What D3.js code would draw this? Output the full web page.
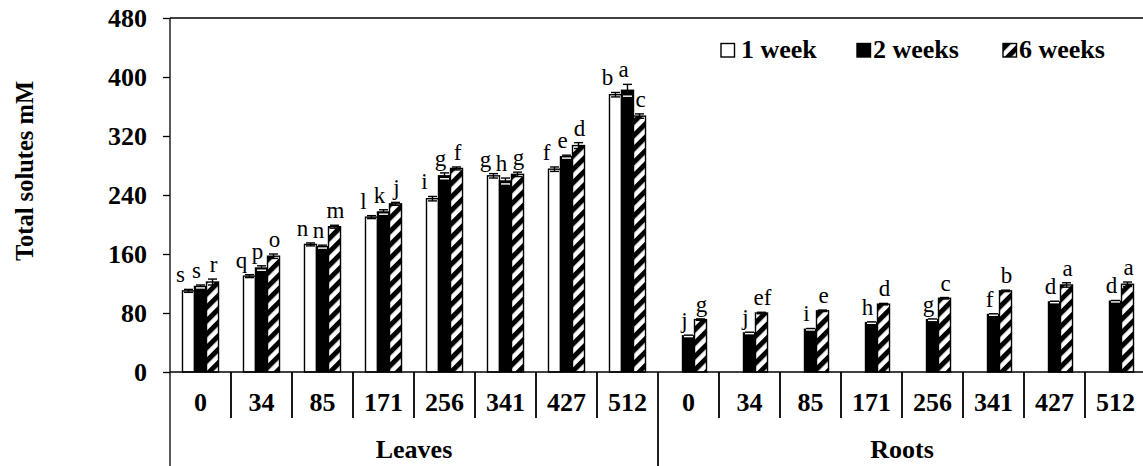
<!DOCTYPE html>
<html>
<head>
<meta charset="utf-8">
<script src="https://cdn.jsdelivr.net/npm/d3@7"></script>
<style>
  html, body { margin: 0; padding: 0; background: #fff; }
  svg { display: block; }
</style>
</head>
<body>
<svg id="chart" width="1143" height="466"></svg>
<script>
// ---------- data ----------
const groups = ["Leaves", "Roots"];
const doses = ["0", "34", "85", "171", "256", "341", "427", "512"];
const series = ["1 week", "2 weeks", "6 weeks"];
const yTicks = [0, 80, 160, 240, 320, 400, 480];

const leaves1w = [110, 130, 173, 210, 235, 266, 275, 376];
const leaves2w = [116, 141, 170, 217, 266, 259, 292, 382];
const leaves6w = [122, 157, 197, 228, 276, 268, 307, 347];
const roots1w  = [null, null, null, null, null, null, null, null];
const roots2w  = [49, 53, 58, 67, 71, 78, 95, 96];
const roots6w  = [71, 80, 83, 92, 100, 110, 118, 119];

const leaves1wErr = [2, 2, 2, 2, 3, 3, 3, 3];
const leaves2wErr = [2, 3, 2, 3, 4, 4, 2, 8];
const leaves6wErr = [4, 3, 2, 2, 2, 3, 4, 3];
const roots1wErr  = [null, null, null, null, null, null, null, null];
const roots2wErr  = [1, 1, 1, 1, 1, 1, 1, 1];
const roots6wErr  = [1, 1, 1, 1, 1, 1, 3, 3];

const leaves1wLet = ["s", "q", "n", "l", "i", "g", "f", "b"];
const leaves2wLet = ["s", "p", "n", "k", "g", "h", "e", "a"];
const leaves6wLet = ["r", "o", "m", "j", "f", "g", "d", "c"];
const roots1wLet  = [null, null, null, null, null, null, null, null];
const roots2wLet  = ["j", "j", "i", "h", "g", "f", "d", "d"];
const roots6wLet  = ["g", "ef", "e", "d", "c", "b", "a", "a"];

// ---------- assemble ----------
const valueTable = { Leaves: [leaves1w, leaves2w, leaves6w], Roots: [roots1w, roots2w, roots6w] };
const errTable = { Leaves: [leaves1wErr, leaves2wErr, leaves6wErr], Roots: [roots1wErr, roots2wErr, roots6wErr] };
const letTable = { Leaves: [leaves1wLet, leaves2wLet, leaves6wLet], Roots: [roots1wLet, roots2wLet, roots6wLet] };

const cats = [];
groups.forEach(g => doses.forEach((d, i) => cats.push({ key: g + "|" + d, group: g, dose: d, i })));
const rows = [];
cats.forEach(c => series.forEach((s, si) => {
  const v = valueTable[c.group][si][c.i];
  if (v == null) return;
  rows.push({ key: c.key, series: s, si, value: v, err: errTable[c.group][si][c.i], letter: letTable[c.group][si][c.i] });
}));

// ---------- layout ----------
const svg = d3.select("#chart");
const W = 1143, H = 466;
const pLeft = 170, pRight = 1146, pTop = 18, pBase = 372;
const FONT_BIG = 26;
const FF = '"Liberation Serif"';

const y = d3.scaleLinear().domain([0, 480]).range([pBase, pTop]);
const x = d3.scaleBand().domain(cats.map(c => c.key)).range([pLeft, pRight]).padding(0);
const xs = d3.scaleBand().domain(series).range([0, x.bandwidth()]).paddingInner(0).paddingOuter(1.04);

svg.append("rect").attr("width", W).attr("height", H).attr("fill", "#fff");

// pattern
const defs = svg.append("defs");
const pat = defs.append("pattern").attr("id", "hatch").attr("patternUnits", "userSpaceOnUse")
  .attr("width", 9.5).attr("height", 9.5).attr("patternTransform", "rotate(45)");
pat.append("rect").attr("width", 9.5).attr("height", 9.5).attr("fill", "#fff");
pat.append("rect").attr("width", 5).attr("height", 9.5).attr("fill", "#000");

const fills = ["#fff", "#000", "url(#hatch)"];

// frame top line
svg.append("line").attr("x1", pLeft).attr("x2", pRight).attr("y1", pTop).attr("y2", pTop)
  .attr("stroke", "#000").attr("stroke-width", 1.3);

// bars
svg.append("g").selectAll("rect").data(rows).join("rect")
  .attr("x", d => x(d.key) + xs(d.series))
  .attr("width", xs.bandwidth())
  .attr("y", d => y(d.value))
  .attr("height", d => y(0) - y(d.value))
  .attr("fill", d => fills[d.si])
  .attr("stroke", "#000").attr("stroke-width", 1.4);

// error bars
const eg = svg.append("g").attr("stroke", "#000").attr("stroke-width", 1.4);
rows.forEach(d => {
  const cx = x(d.key) + xs(d.series) + xs.bandwidth() / 2;
  const hw = 4.5;
  const y1 = y(d.value + d.err), y2 = y(d.value - d.err);
  eg.append("line").attr("x1", cx).attr("x2", cx).attr("y1", y1).attr("y2", y2);
  eg.append("line").attr("x1", cx - hw).attr("x2", cx + hw).attr("y1", y1).attr("y2", y1);
  eg.append("line").attr("x1", cx - hw).attr("x2", cx + hw).attr("y1", y2).attr("y2", y2)
    .attr("stroke", d.si === 1 ? "#fff" : "#000");
});

// letters
const letterDx = [-8, -4, 1];
svg.append("g").selectAll("text").data(rows.filter(d => d.letter)).join("text")
  .attr("x", d => x(d.key) + xs(d.series) + xs.bandwidth() / 2 + letterDx[d.si])
  .attr("y", d => y(d.value + d.err) - 7)
  .attr("text-anchor", "middle")
  .style("font-family", FF)
  .attr("font-size", 23)
  .text(d => d.letter);

// y axis
const yAxis = d3.axisLeft(y).tickValues(yTicks).tickSize(7).tickSizeOuter(0).tickPadding(16);
const gy = svg.append("g").attr("transform", `translate(${pLeft},0)`).call(yAxis);
gy.select(".domain").remove();
gy.selectAll(".tick line").attr("stroke", "#000").attr("stroke-width", 1.3);
gy.selectAll(".tick text").attr("font-size", FONT_BIG).attr("font-weight", "bold")
  .style("font-family", FF).attr("fill", "#000");
svg.append("line").attr("x1", pLeft).attr("x2", pLeft).attr("y1", pTop).attr("y2", H)
  .attr("stroke", "#000").attr("stroke-width", 1.3);

// x axis baseline
svg.append("line").attr("x1", pLeft).attr("x2", pRight).attr("y1", pBase).attr("y2", pBase)
  .attr("stroke", "#000").attr("stroke-width", 1.6);

// x category labels
const xAxis = d3.axisBottom(x).tickSize(0).tickSizeOuter(0).tickPadding(20.5)
  .tickFormat(k => k.split("|")[1]);
const gx = svg.append("g").attr("transform", `translate(0,${pBase})`).call(xAxis);
gx.select(".domain").remove();
gx.selectAll(".tick text").attr("font-size", FONT_BIG).attr("font-weight", "bold")
  .style("font-family", FF).attr("fill", "#000");

// separators
const sep = svg.append("g").attr("stroke", "#000");
cats.forEach((c, idx) => {
  if (idx === 0) return;
  const xx = x(c.key);
  const full = c.i === 0;
  sep.append("line").attr("x1", xx).attr("x2", xx).attr("y1", pBase).attr("y2", full ? H : 418)
    .attr("stroke-width", full ? 1.3 : 1.8);
});
groups.forEach(g => {
  const last = x(g + "|" + doses[doses.length - 1]) + x.bandwidth();
  if (last < W) sep.append("line").attr("x1", last).attr("x2", last).attr("y1", pBase).attr("y2", H).attr("stroke-width", 1.3);
});

// group labels
groups.forEach(g => {
  const x0 = x(g + "|" + doses[0]);
  const x1 = x(g + "|" + doses[doses.length - 1]) + x.bandwidth();
  svg.append("text").attr("x", (x0 + x1) / 2).attr("y", 458).attr("text-anchor", "middle")
    .style("font-family", FF).attr("font-size", FONT_BIG).attr("font-weight", "bold").text(g);
});

// y title
svg.append("text").attr("transform", "translate(33,171) rotate(-90)").attr("text-anchor", "middle")
  .style("font-family", FF).attr("font-size", 24.5).attr("font-weight", "bold").text("Total solutes mM");

// legend
const legX = [721, 857, 1003];
const legTextGap = [20, 16, 16];
const lg = svg.append("g");
series.forEach((s, i) => {
  lg.append("rect").attr("x", legX[i]).attr("y", 43.5).attr("width", 13.5).attr("height", 13.5)
    .attr("fill", fills[i]).attr("stroke", "#000").attr("stroke-width", 1.4);
  lg.append("text").attr("x", legX[i] + legTextGap[i]).attr("y", 57.5)
    .style("font-family", FF).attr("font-size", FONT_BIG).attr("font-weight", "bold").text(s);
});
</script>
</body>
</html>
